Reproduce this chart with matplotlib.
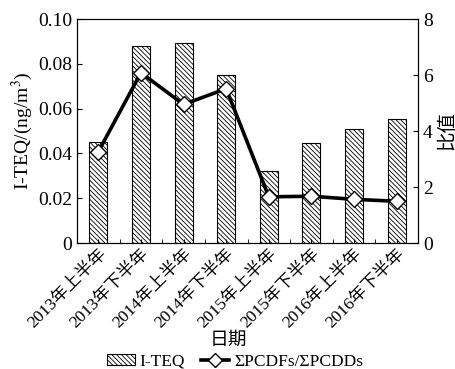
import matplotlib
matplotlib.use('Agg')
import matplotlib.pyplot as plt
import numpy as np
from matplotlib.lines import Line2D
from matplotlib.patches import Patch

plt.rcParams['font.family'] = ['Liberation Serif', 'Noto Sans CJK SC']
plt.rcParams['mathtext.fontset'] = 'stix'
plt.rcParams['hatch.color'] = '#555555'
plt.rcParams['hatch.linewidth'] = 0.6

# data
periods = ['2013年上半年', '2013年下半年', '2014年上半年', '2014年下半年',
           '2015年上半年', '2015年下半年', '2016年上半年', '2016年下半年']
iteq = [0.045, 0.088, 0.0895, 0.075, 0.032, 0.0445, 0.051, 0.0555]
ratio = [3.26, 6.08, 4.95, 5.51, 1.65, 1.67, 1.56, 1.49]

fs = 14
hatch = '\\\\\\\\\\\\\\'

fig = plt.figure(figsize=(4.56, 3.69), dpi=100)
ax = fig.add_axes([77 / 456, 1 - 243 / 369, 341 / 456, 224 / 369])
x = np.arange(len(periods))

ax.bar(x, iteq, width=0.42, color='white', edgecolor='black',
       linewidth=0.8, hatch=hatch)
ax.set_xlim(-0.5, 7.5)
ax.set_ylim(0, 0.10)
ax.set_yticks([0, 0.02, 0.04, 0.06, 0.08, 0.10])
ax.set_yticklabels(['0', '0.02', '0.04', '0.06', '0.08', '0.10'])
ax.set_xticks(x)
ax.set_xticks(x + 0.5, minor=True)
ax.set_xticklabels(periods, rotation=45, ha='right', rotation_mode='anchor')
ax.tick_params(axis='both', which='both', direction='in', labelsize=fs)
ax.tick_params(axis='x', which='major', length=3, pad=2, labelsize=12.5)
ax.tick_params(axis='x', which='minor', length=3)
ax.set_ylabel('I-TEQ/(ng/m$^3$)', fontsize=fs, labelpad=2)

# x axis title sits between the rotated labels and the legend
fig.text(0.5, 1 - 340 / 369, '日期', ha='center', va='center', fontsize=13.5)

ax2 = ax.twinx()
ax2.plot(x, ratio, color='black', linewidth=2.6, marker='D', markersize=8,
         markerfacecolor='white', markeredgecolor='black', markeredgewidth=1)
ax2.set_ylim(0, 8)
ax2.set_yticks([0, 2, 4, 6, 8])
ax2.tick_params(axis='y', direction='in', labelsize=fs)
ax2.set_ylabel('比值', fontsize=fs, labelpad=4)

handles = [Patch(facecolor='white', edgecolor='black', hatch=hatch, linewidth=0.8),
           Line2D([0], [0], color='black', linewidth=2.6, marker='D', markersize=7,
                  markerfacecolor='white', markeredgecolor='black')]
fig.legend(handles, ['I-TEQ', 'ΣPCDFs/ΣPCDDs'], loc='lower center',
           bbox_to_anchor=(0.515, -0.03), ncol=2, frameon=False, fontsize=12.5,
           handlelength=1.6, handleheight=0.6, handletextpad=0.3,
           columnspacing=0.9, borderpad=0.1)

plt.savefig('out.png', dpi=100)
